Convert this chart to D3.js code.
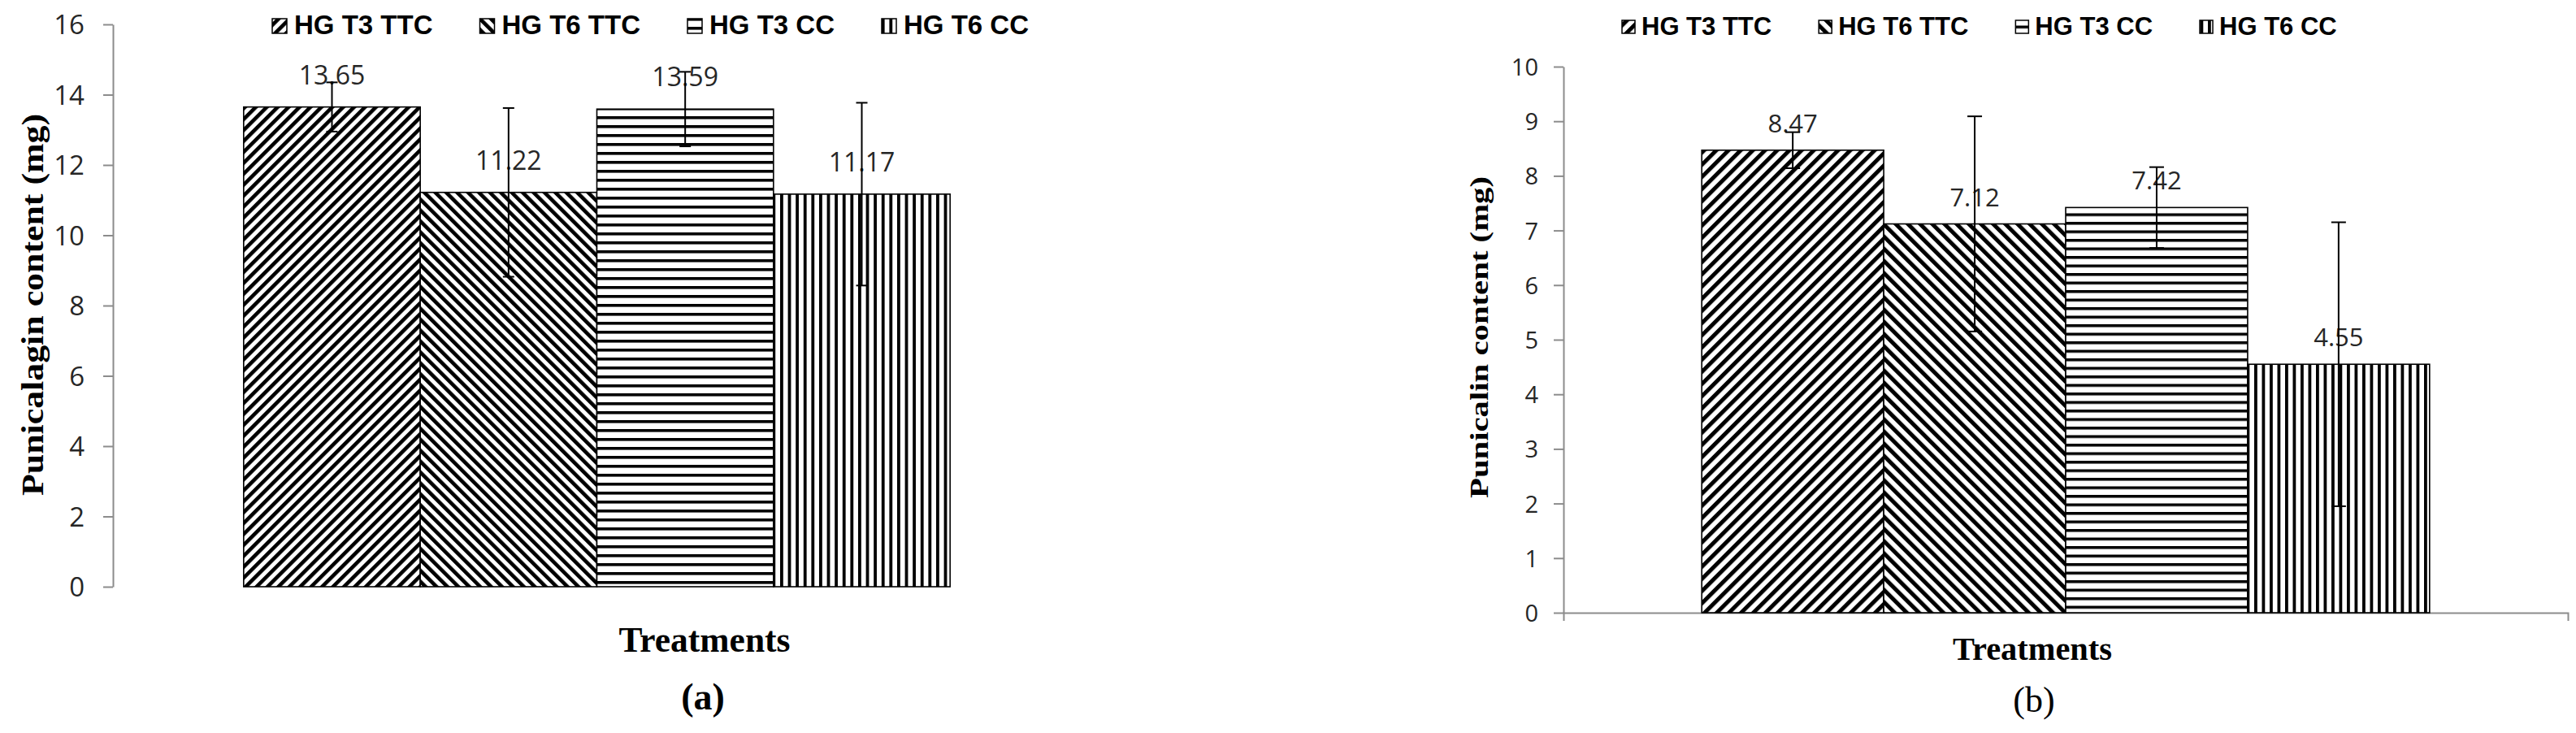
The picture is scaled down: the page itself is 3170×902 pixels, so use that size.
<!DOCTYPE html>
<html>
<head>
<meta charset="utf-8">
<script src="https://cdn.jsdelivr.net/npm/d3@7"></script>
<style>
  html, body { margin: 0; padding: 0; background: #ffffff; }
  svg { display: block; }
</style>
</head>
<body>
<svg id="chart" width="3170" height="902"></svg>
<script>
// ---------------- DATA ----------------
const categories = ["Treatments"];
const series = ["HG T3 TTC", "HG T6 TTC", "HG T3 CC", "HG T6 CC"];

const punicalaginValues = [13.65, 11.22, 13.59, 11.17];
const punicalaginErrors = [0.70, 2.40, 1.06, 2.60];
const punicalaginTicks = [0, 2, 4, 6, 8, 10, 12, 14, 16];

const punicalinValues = [8.47, 7.12, 7.42, 4.55];
const punicalinErrors = [0.33, 1.97, 0.74, 2.60];
const punicalinTicks = [0, 1, 2, 3, 4, 5, 6, 7, 8, 9, 10];

const yTitles = ["Punicalagin content (mg)", "Punicalin content (mg)"];
const xTitle = "Treatments";
const panelCaptions = ["(a)", "(b)"];

// ---------------- LAYOUT ----------------
const layouts = [
  {
    id: "a", axisX: 139, plotRight: 1330, yTop: 30, yBottom: 722, outerPad: 0.185,
    tickSize: 12, tickPad: 23, tickFont: 33,
    labelFont: 32, labelOffset: 28,
    legendX: 335, keyY: 23, keySize: 18, textGap: 9, itemGap: 58, legendBaseline: 42, legendFont: 33,
    yTitleX: 53, yTitleY: 375, yTitleLen: 470, yTitleFont: 38,
    xTitleX: 867, xTitleBaseline: 802, xTitleLen: 211, xTitleFont: 44,
    capX: 865, capBaseline: 873, capFont: 46, capWeight: "bold",
    xAxisLine: false, capW: 14,
    diagPeriod: 9.5, diagStripe: 4.6, hPeriod: 11, hStripe: 3.6, vPeriod: 9.6, vStripe: 3.8
  },
  {
    id: "b", axisX: 1924, plotRight: 3160, yTop: 82, yBottom: 754, outerPad: 0.19,
    tickSize: 12, tickPad: 19, tickFont: 29,
    labelFont: 31, labelOffset: 22,
    legendX: 1996, keyY: 25, keySize: 16, textGap: 8, itemGap: 58, legendBaseline: 43, legendFont: 31,
    yTitleX: 1831, yTitleY: 415, yTitleLen: 396, yTitleFont: 32,
    xTitleX: 2501, xTitleBaseline: 812, xTitleLen: 196, xTitleFont: 40,
    capX: 2503, capBaseline: 876, capFont: 44, capWeight: "normal",
    xAxisLine: true, capW: 18,
    diagPeriod: 10.6, diagStripe: 5.0, hPeriod: 10.5, hStripe: 3.5, vPeriod: 9.5, vStripe: 3.8
  }
];

const AXIS_GRAY = "#8c8c8c";
const svg = d3.select("#chart");
svg.append("rect").attr("width", 3170).attr("height", 902).attr("fill", "#ffffff");
const defs = svg.append("defs");

function makePatterns(L) {
  const specs = [
    { kind: "diag", angle: 45 },
    { kind: "diag", angle: -45 },
    { kind: "h" },
    { kind: "v" }
  ];
  return specs.map((s, i) => {
    const id = `pat-${L.id}-${i}`;
    let p;
    if (s.kind === "diag") {
      p = defs.append("pattern").attr("id", id).attr("patternUnits", "userSpaceOnUse")
        .attr("width", L.diagPeriod).attr("height", L.diagPeriod)
        .attr("patternTransform", `rotate(${s.angle})`);
      p.append("rect").attr("width", L.diagPeriod).attr("height", L.diagPeriod).attr("fill", "#fff");
      p.append("rect").attr("width", L.diagStripe).attr("height", L.diagPeriod).attr("fill", "#000");
    } else if (s.kind === "h") {
      p = defs.append("pattern").attr("id", id).attr("patternUnits", "userSpaceOnUse")
        .attr("width", L.hPeriod).attr("height", L.hPeriod);
      p.append("rect").attr("width", L.hPeriod).attr("height", L.hPeriod).attr("fill", "#fff");
      p.append("rect").attr("width", L.hPeriod).attr("height", L.hStripe).attr("fill", "#000");
    } else {
      p = defs.append("pattern").attr("id", id).attr("patternUnits", "userSpaceOnUse")
        .attr("width", L.vPeriod).attr("height", L.vPeriod);
      p.append("rect").attr("width", L.vPeriod).attr("height", L.vPeriod).attr("fill", "#fff");
      p.append("rect").attr("width", L.vStripe).attr("height", L.vPeriod).attr("fill", "#000");
    }
    return `url(#${id})`;
  });
}

function drawPanel(L, values, errors, ticks, yTitle, caption) {
  const fills = makePatterns(L);
  const g = svg.append("g").attr("class", "panel-" + L.id);
  const yMax = d3.max(ticks);

  const y = d3.scaleLinear().domain([0, yMax]).range([L.yBottom, L.yTop]);
  const x0 = d3.scaleBand().domain(categories).range([L.axisX, L.plotRight])
    .paddingInner(0).paddingOuter(L.outerPad);
  const x1 = d3.scaleBand().domain(series).range([0, x0.bandwidth()]).padding(0);

  const rows = series.map((s, i) => ({ s, i, v: values[i], e: errors[i] }));

  // y axis
  const yAxis = d3.axisLeft(y).tickValues(ticks).tickSize(L.tickSize).tickSizeOuter(0)
    .tickPadding(L.tickPad).tickFormat(d3.format("d"));
  const ya = g.append("g").attr("transform", `translate(${L.axisX},0)`).call(yAxis);
  ya.select(".domain").attr("stroke", AXIS_GRAY).attr("stroke-width", 2);
  ya.selectAll(".tick line").attr("stroke", AXIS_GRAY).attr("stroke-width", 2);
  ya.selectAll(".tick text").attr("font-family", "'Open Sans', sans-serif")
    .attr("font-size", L.tickFont).attr("fill", "#262626").attr("dy", "0.36em");

  // x axis (panel b)
  if (L.xAxisLine) {
    const xAxis = d3.axisBottom(x0).tickValues([]).tickSizeOuter(10);
    const xa = g.append("g").attr("transform", `translate(0,${L.yBottom})`).call(xAxis);
    xa.select(".domain").attr("stroke", AXIS_GRAY).attr("stroke-width", 2);
  }

  const cat = categories[0];
  // bars
  g.selectAll("rect.bar").data(rows).join("rect").attr("class", "bar")
    .attr("x", d => x0(cat) + x1(d.s))
    .attr("y", d => y(d.v))
    .attr("width", x1.bandwidth())
    .attr("height", d => y(0) - y(d.v))
    .attr("fill", d => fills[d.i])
    .attr("stroke", "#000").attr("stroke-width", 1.6);

  // data labels
  g.selectAll("text.lbl").data(rows).join("text").attr("class", "lbl")
    .attr("x", d => x0(cat) + x1(d.s) + x1.bandwidth() / 2)
    .attr("y", d => y(d.v) - L.labelOffset)
    .attr("text-anchor", "middle")
    .attr("font-family", "'Open Sans', sans-serif")
    .attr("font-size", L.labelFont).attr("fill", "#262626")
    .text(d => d.v.toFixed(2));

  // error bars
  const eb = g.selectAll("g.err").data(rows).join("g").attr("class", "err")
    .attr("transform", d => `translate(${x0(cat) + x1(d.s) + x1.bandwidth() / 2},0)`);
  eb.append("line").attr("x1", 0).attr("x2", 0)
    .attr("y1", d => y(d.v + d.e)).attr("y2", d => y(d.v - d.e))
    .attr("stroke", "#000").attr("stroke-width", 2);
  eb.append("line").attr("x1", -L.capW / 2).attr("x2", L.capW / 2)
    .attr("y1", d => y(d.v + d.e)).attr("y2", d => y(d.v + d.e))
    .attr("stroke", "#000").attr("stroke-width", 2);
  eb.append("line").attr("x1", -L.capW / 2).attr("x2", L.capW / 2)
    .attr("y1", d => y(d.v - d.e)).attr("y2", d => y(d.v - d.e))
    .attr("stroke", "#000").attr("stroke-width", 2);

  // legend
  const lg = g.append("g").attr("class", "legend");
  let cx = L.legendX;
  rows.forEach(d => {
    lg.append("rect").attr("x", cx).attr("y", L.keyY).attr("width", L.keySize).attr("height", L.keySize)
      .attr("fill", fills[d.i]).attr("stroke", "#000").attr("stroke-width", 1.5);
    const t = lg.append("text").attr("x", cx + L.keySize + L.textGap).attr("y", L.legendBaseline)
      .attr("font-family", "'Liberation Sans', Arial, sans-serif").attr("font-weight", "bold")
      .attr("font-size", L.legendFont).attr("fill", "#000").text(d.s);
    const w = t.node().getComputedTextLength();
    cx += L.keySize + L.textGap + w + L.itemGap;
  });

  // y title
  g.append("text")
    .attr("transform", `translate(${L.yTitleX},${L.yTitleY}) rotate(-90)`)
    .attr("text-anchor", "middle")
    .attr("font-family", "'Liberation Serif', 'DejaVu Serif', serif").attr("font-weight", "bold")
    .attr("font-size", L.yTitleFont).attr("fill", "#000")
    .attr("textLength", L.yTitleLen).attr("lengthAdjust", "spacingAndGlyphs")
    .text(yTitle);

  // x title
  g.append("text")
    .attr("x", L.xTitleX).attr("y", L.xTitleBaseline)
    .attr("text-anchor", "middle")
    .attr("font-family", "'Liberation Serif', 'DejaVu Serif', serif").attr("font-weight", "bold")
    .attr("font-size", L.xTitleFont).attr("fill", "#000")
    .attr("textLength", L.xTitleLen).attr("lengthAdjust", "spacingAndGlyphs")
    .text(xTitle);

  // panel caption
  g.append("text")
    .attr("x", L.capX).attr("y", L.capBaseline)
    .attr("text-anchor", "middle")
    .attr("font-family", "'Liberation Serif', 'DejaVu Serif', serif").attr("font-weight", L.capWeight)
    .attr("font-size", L.capFont).attr("fill", "#000")
    .text(caption);
}

drawPanel(layouts[0], punicalaginValues, punicalaginErrors, punicalaginTicks, yTitles[0], panelCaptions[0]);
drawPanel(layouts[1], punicalinValues, punicalinErrors, punicalinTicks, yTitles[1], panelCaptions[1]);
</script>
</body>
</html>
